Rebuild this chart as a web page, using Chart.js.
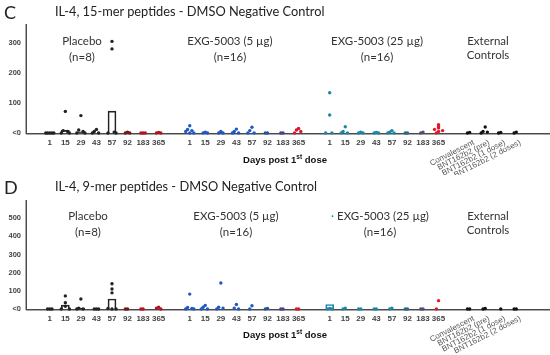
<!DOCTYPE html>
<html>
<head>
<meta charset="utf-8">
<script src="https://cdn.jsdelivr.net/npm/chart.js@4.4.0/dist/chart.umd.min.js"></script>
<style>
  body { margin: 0; background: #fff; }
  #wrap { position: relative; width: 550px; height: 355px; overflow: hidden; font-family: Lato, "Open Sans", sans-serif; color: #222; }
  .cv { position: absolute; left: 0; }
  .t { position: absolute; white-space: nowrap; line-height: 1; }
  .g { position: absolute; width: 140px; text-align: center; font-size: 11.5px; line-height: 16px; color: #333; }
  .ax { position: absolute; width: 140px; text-align: center; white-space: nowrap; font: bold 9.5px Arial, "Liberation Sans", sans-serif; color: #111; }
  .ax sup { font-size: 6.5px; }
</style>
</head>
<body>
<div id="wrap">
  <canvas id="c15" class="cv" width="550" height="175" style="top:0"></canvas>
  <canvas id="d9" class="cv" width="550" height="180" style="top:175px"></canvas>

  <div class="t" style="left:4px;top:3px;font-size:18px">C</div>
  <div class="t" style="left:55px;top:5px;font-size:12.8px">IL-4, 15-mer peptides - DMSO Negative Control</div>
  <div class="g" style="left:12px;top:33px">Placebo<br>(n=8)</div>
  <div class="g" style="left:160px;top:33px">EXG-5003 (5 µg)<br>(n=16)</div>
  <div class="g" style="left:307px;top:33px">EXG-5003 (25 µg)<br>(n=16)</div>
  <div class="g" style="left:418px;top:34px;line-height:14px">External<br>Controls</div>
  <div class="ax" style="left:215px;top:153px">Days post 1<sup>st</sup> dose</div>

  <div class="t" style="left:4px;top:178px;font-size:18px">D</div>
  <div class="t" style="left:55px;top:180px;font-size:12.8px">IL-4, 9-mer peptides - DMSO Negative Control</div>
  <div class="g" style="left:18px;top:208px">Placebo<br>(n=8)</div>
  <div class="g" style="left:166px;top:208px">EXG-5003 (5 µg)<br>(n=16)</div>
  <div class="g" style="left:310px;top:208px"><span style="color:#1b86a6">·</span> EXG-5003 (25 µg)<br>(n=16)</div>
  <div class="g" style="left:418px;top:209px;line-height:14px">External<br>Controls</div>
  <div class="ax" style="left:215px;top:328px">Days post 1<sup>st</sup> dose</div>
</div>

<script>
// categories on the x axis (empty strings are the gaps between groups)
const days = ['1', '15', '29', '43', '57', '92', '183', '365'];
const externals = ['Convalescent', 'BNT162b2 (pre)', 'BNT162b2 (1 dose)', 'BNT162b2 (2 doses)'];
const categories = [...days, '', ...days, '', ...days, '', ...externals];

const placeboColors = ['#222', '#222', '#222', '#222', '#222', '#6b1a1a', '#b3121f', '#b3121f'];
const low5Colors = ['#1f57c3', '#1f57c3', '#1f57c3', '#1f57c3', '#1f57c3', '#2a4fa0', '#4b3f8c', '#d8182b'];
const high25Colors = ['#1b86a6', '#1b86a6', '#1b86a6', '#1b86a6', '#1b86a6', '#2a6787', '#4e4d78', '#e3162b'];
const externalColors = ['#111', '#111', '#111', '#111'];
const catColors = [...placeboColors, null, ...low5Colors, null, ...high25Colors, null, ...externalColors];

// panel C - 15-mer peptides, spot values per category
const c15Values = [
  [0, 0, 0, 0, 0], [72, 8, 5, 0, 0], [58, 10, 5, 0, 0], [12, 5, 0, 0], [305, 280, 3, 0, 0], [3, 0, 0], [0, 0, 0], [2, 0, 0],
  [],
  [24, 12, 8, 5, 0, 0], [3, 0, 0], [5, 0, 0], [13, 5, 0, 0], [19, 8, 0, 0], [0, 0], [0, 0], [15, 10, 5, 0],
  [],
  [134, 60, 0, 0], [21, 5, 0, 0], [3, 0, 0], [2, 0, 0], [8, 3, 0, 0], [0, 0], [3, 0], [28, 22, 17, 12, 8, 5, 0],
  [],
  [2, 0], [20, 5, 3, 0], [2, 0], [3, 0]
];
const c15Bars = [
  null, 9, 4, null, 73, null, null, null,
  null,
  null, null, null, null, null, null, null, null,
  null,
  null, null, null, null, null, null, null, null,
  null,
  null, null, null, null
];

// panel D - 9-mer peptides
const d9Values = [
  [0, 0, 0], [72, 35, 15, 0, 0], [55, 5, 0, 0], [0, 0, 0], [139, 110, 89, 3, 0, 0], [0, 0], [0, 0], [10, 5, 0],
  [],
  [82, 8, 3, 0, 0], [20, 10, 0, 0], [143, 10, 5, 0], [25, 5, 0], [18, 0], [3, 0], [0, 0], [0, 0],
  [],
  [3, 0, 0], [5, 0], [0, 0], [0, 0], [5, 0], [0, 0], [0, 0], [46, 0],
  [],
  [0, 0], [3, 0], [0], [0, 0]
];
const d9Bars = [
  null, 22, 5, null, 55, null, null, null,
  null,
  null, null, null, null, null, null, null, null,
  null,
  25, null, null, null, null, null, null, null,
  null,
  null, null, null, null
];

const spread = [0, -0.14, 0.14, -0.26, 0.26];

// axis lines (under the points) + rotated labels under the external controls
const axisExtras = {
  id: 'axisExtras',
  beforeDatasetsDraw(chart) {
    const { ctx, chartArea } = chart;
    const y0 = Math.round(chart.scales.y.getPixelForValue(0));
    const xl = Math.round(chartArea.left);
    const yt = Math.round(chartArea.top);
    ctx.save();
    ctx.fillStyle = '#4a4a4a';
    ctx.fillRect(xl, yt, 1, y0 - yt + 1);
    ctx.fillRect(xl, y0, 550 - xl, 1);
    ctx.fillStyle = '#a8a8a8';
    ctx.fillRect(xl - 1, yt, 1, y0 - yt + 1);
    ctx.fillRect(xl, y0 + 1, 550 - xl, 1);
    ctx.restore();
  },
  afterDraw(chart) {
    const { ctx, chartArea } = chart;
    const x = chart.scales.x;
    ctx.save();
    ctx.font = '8px Arial';
    ctx.fillStyle = '#555';
    ctx.textAlign = 'right';
    ctx.textBaseline = 'middle';
    externals.forEach(label => {
      const px = x.getPixelForValue(categories.indexOf(label));
      ctx.save();
      ctx.translate(px + 4, chartArea.bottom + 9);
      ctx.rotate(-27 * Math.PI / 180);
      ctx.fillText(label, 0, 0);
      ctx.restore();
    });
    ctx.restore();
  }
};

function makeChart(id, values, bars, yMax, yLimit, padTop, axisH) {
  const pts = [], ptCols = [];
  values.forEach((list, i) => list.forEach((v, k) => {
    pts.push({ x: i + (v < 15 ? spread[k % spread.length] : 0), y: v });
    ptCols.push(catColors[i]);
  }));
  const barData = [], barCols = [];
  bars.forEach((v, i) => {
    if (v !== null) { barData.push({ x: i, y: v }); barCols.push(catColors[i]); }
  });

  return new Chart(document.getElementById(id), {
    type: 'scatter',
    data: {
      datasets: [
        { type: 'bar', data: barData, backgroundColor: 'rgba(255,255,255,0)', borderColor: barCols,
          borderWidth: 1, barThickness: 8, order: 2 },
        { type: 'scatter', data: pts, backgroundColor: ptCols, pointRadius: 1.7, pointBorderWidth: 0,
          order: 1, clip: false }
      ]
    },
    options: {
      responsive: false,
      animation: false,
      layout: { padding: { top: padTop, left: 0, right: 0, bottom: 0 } },
      plugins: { legend: { display: false }, tooltip: { enabled: false } },
      scales: {
        x: {
          type: 'linear', min: -1.53, max: 31.91, offset: false,
          grid: { display: false, drawTicks: false, offset: false },
          border: { display: false },
          afterBuildTicks: s => { s.ticks = categories.map((c, i) => ({ value: i })); },
          afterFit: s => { s.height = axisH; },
          ticks: {
            autoSkip: false, maxRotation: 0, minRotation: 0, padding: 5, color: '#444',
            font: { family: 'Arial', size: 8, weight: 'bold' },
            callback: v => (externals.includes(categories[v]) ? '' : categories[v])
          }
        },
        y: {
          min: 0, max: yMax,
          grid: { display: false, drawTicks: false },
          border: { display: false },
          afterFit: s => { s.width = 26; },
          ticks: {
            stepSize: 100, padding: 5, color: '#444',
            font: { family: 'Arial', size: 7.5, weight: 'bold' },
            callback: v => (v === 0 ? '<0' : (v % 100 === 0 && v <= yLimit ? v : ''))
          }
        }
      }
    },
    plugins: [axisExtras]
  });
}

makeChart('c15', c15Values, c15Bars, 363, 300, 24, 42);
makeChart('d9', d9Values, d9Bars, 600, 500, 25, 46);
</script>
</body>
</html>
